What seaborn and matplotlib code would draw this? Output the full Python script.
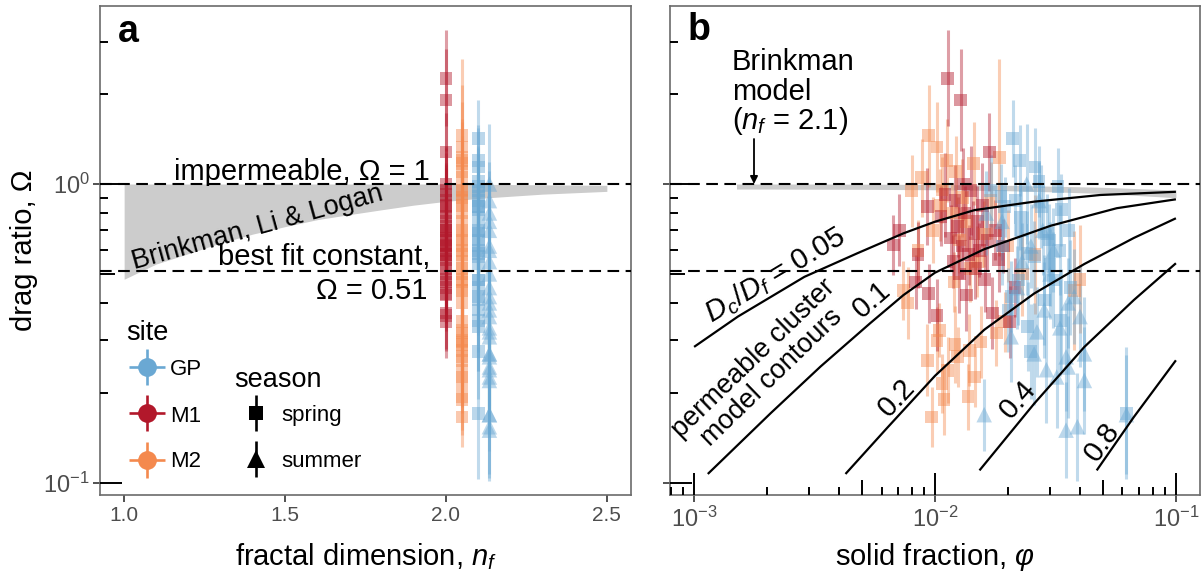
import matplotlib
matplotlib.use("Agg")
import numpy as np
import pandas as pd
import matplotlib.pyplot as plt
import matplotlib.transforms as mtransforms
from matplotlib.ticker import FixedLocator, NullLocator
import seaborn as sns

sns.set_theme(style="white")
plt.rcParams["font.family"] = ["Liberation Sans", "DejaVu Sans"]
plt.rcParams["mathtext.fontset"] = "custom"
plt.rcParams["mathtext.rm"] = "Liberation Sans"
plt.rcParams["mathtext.it"] = "Liberation Sans:italic"
plt.rcParams["mathtext.bf"] = "Liberation Sans:bold"
plt.rcParams["text.color"] = "black"
plt.rcParams["axes.labelcolor"] = "black"

# ---------------- measured aggregates ----------------
# solid fraction phi, drag ratio omega, log10 half-width of the omega error bar
m1_phi = [0.0067, 0.0071, 0.0083, 0.0085, 0.0093, 0.0094,
          0.0102, 0.0106, 0.0110, 0.0113, 0.0116, 0.0119,
          0.0121, 0.0124, 0.0126, 0.0128, 0.0130, 0.0133,
          0.0135, 0.0138, 0.0141, 0.0144, 0.0147, 0.0150,
          0.0153, 0.0157, 0.0161, 0.0165, 0.0168, 0.0173,
          0.0178, 0.0184, 0.0192, 0.0204, 0.0215, 0.0131]
m1_omega = [0.625, 0.70, 0.47, 0.58, 0.84, 0.43,
            0.364, 0.78, 0.92, 2.26, 0.66, 0.55,
            0.88, 0.72, 0.50, 1.91, 0.62, 0.80,
            0.425, 0.58, 0.95, 0.68, 0.52, 0.75,
            0.60, 0.85, 0.48, 0.65, 1.28, 0.37,
            0.70, 0.56, 0.62, 0.346, 0.45, 1.00]
m1_err = [0.10, 0.12, 0.09, 0.11, 0.13, 0.10,
          0.12, 0.10, 0.14, 0.16, 0.11, 0.09,
          0.12, 0.10, 0.13, 0.17, 0.11, 0.09,
          0.12, 0.10, 0.15, 0.11, 0.10, 0.12,
          0.09, 0.14, 0.11, 0.10, 0.13, 0.12,
          0.10, 0.11, 0.09, 0.12, 0.10, 0.12]

m2_phi = [0.0074, 0.0077, 0.0093, 0.0097, 0.0102, 0.0104,
          0.0107, 0.0109, 0.0113, 0.0121, 0.0124, 0.0137,
          0.0139, 0.0146, 0.0155, 0.0180, 0.0195, 0.0378,
          0.0080, 0.0085, 0.0088, 0.0094, 0.0098, 0.0102,
          0.0105, 0.0107, 0.0112, 0.0118, 0.0122, 0.0126,
          0.0130, 0.0135, 0.0145, 0.0150, 0.0160, 0.0170,
          0.0185, 0.0200, 0.0230, 0.0260, 0.0400, 0.0120,
          0.0140]
m2_omega = [0.44, 0.40, 0.257, 0.166, 0.30, 0.324,
            0.215, 0.19, 0.238, 0.29, 0.264, 0.194,
            0.278, 0.226, 0.296, 0.317, 0.346, 0.44,
            0.95, 0.60, 1.05, 1.45, 0.70, 1.33,
            0.85, 0.955, 1.20, 0.80, 1.10, 0.65,
            0.90, 0.75, 1.17, 0.55, 0.68, 0.88,
            1.23, 0.62, 0.50, 0.58, 0.48, 0.47,
            0.52]
m2_err = [0.10, 0.12, 0.12, 0.10, 0.11, 0.09,
          0.10, 0.12, 0.11, 0.13, 0.10, 0.11,
          0.12, 0.10, 0.12, 0.11, 0.10, 0.20,
          0.12, 0.10, 0.13, 0.17, 0.11, 0.15,
          0.12, 0.11, 0.14, 0.10, 0.12, 0.11,
          0.13, 0.10, 0.14, 0.12, 0.11, 0.13,
          0.33, 0.12, 0.14, 0.20, 0.18, 0.10,
          0.11]

gp_sp_phi = [0.0170, 0.0188, 0.0190, 0.0195, 0.0201, 0.0207,
             0.0210, 0.0215, 0.0222, 0.0225, 0.0226, 0.0228,
             0.0241, 0.0243, 0.0250, 0.0258, 0.0260, 0.0270,
             0.0276, 0.0284, 0.0293, 0.0298, 0.0300, 0.0310,
             0.0324, 0.0330, 0.0332, 0.0334, 0.0360, 0.0365,
             0.0623]
gp_sp_omega = [0.95, 0.907, 0.62, 0.84, 0.379, 0.42,
               1.42, 0.88, 0.477, 1.20, 0.775, 0.70,
               0.587, 0.333, 0.275, 0.571, 1.14, 1.02,
               0.84, 0.409, 0.684, 0.65, 0.54, 0.477,
               0.98, 0.60, 0.35, 0.82, 0.70, 0.45,
               0.171]
gp_sp_err = [0.12, 0.11, 0.13, 0.10, 0.14, 0.12,
             0.13, 0.12, 0.15, 0.12, 0.11, 0.13,
             0.14, 0.15, 0.16, 0.12, 0.13, 0.12,
             0.14, 0.15, 0.13, 0.12, 0.14, 0.16,
             0.13, 0.15, 0.17, 0.12, 0.14, 0.16,
             0.22]

gp_su_phi = [0.0160, 0.0163, 0.0190, 0.0207, 0.0220, 0.0230,
             0.0240, 0.0250, 0.0258, 0.0270, 0.0280, 0.0284,
             0.0290, 0.0300, 0.0310, 0.0320, 0.0330, 0.0350,
             0.0350, 0.0357, 0.0357, 0.0378, 0.0390, 0.0400,
             0.0417, 0.0417, 0.0623, 0.0265]
gp_su_omega = [0.169, 0.80, 0.75, 0.308, 0.45, 0.55,
               1.00, 0.62, 0.27, 0.88, 0.70, 0.379,
               0.239, 0.50, 0.60, 0.226, 0.33, 0.264,
               0.150, 0.244, 0.40, 0.42, 0.154, 0.36,
               0.27, 0.22, 0.169, 0.32]
gp_su_err = [0.12, 0.14, 0.13, 0.15, 0.14, 0.13,
             0.20, 0.14, 0.17, 0.13, 0.15, 0.16,
             0.18, 0.15, 0.14, 0.17, 0.16, 0.18,
             0.16, 0.17, 0.15, 0.16, 0.18, 0.17,
             0.19, 0.18, 0.20, 0.15]

# fractal dimension assigned to each site / season
nf_m1_spring = 2.00
nf_m2_spring = 2.05
nf_gp_spring = 2.10
nf_gp_summer = 2.135

# ---------------- model curves ----------------
# Brinkman, Li & Logan range against fractal dimension
brink_nf = [1.0, 1.1, 1.2, 1.3, 1.4, 1.5, 1.6, 1.7,
            1.8, 1.9, 2.0, 2.1, 2.2, 2.3, 2.4, 2.5]
brink_lo = [0.48, 0.54, 0.585, 0.635, 0.68, 0.72, 0.76, 0.79,
            0.82, 0.85, 0.875, 0.895, 0.91, 0.925, 0.935, 0.945]
brink_hi = [1.0, 1.0, 1.0, 1.0, 1.0, 1.0, 1.0, 1.0,
            1.0, 1.0, 1.0, 0.998, 0.996, 0.994, 0.992, 0.99]

# Brinkman model at n_f = 2.1 against solid fraction
brink21_phi = [0.0015, 0.002, 0.003, 0.005, 0.01, 0.02, 0.03, 0.05, 0.07, 0.1]
brink21_hi = [1.0, 1.0, 1.0, 0.999, 0.997, 0.99, 0.984, 0.975, 0.965, 0.955]
brink21_lo = [0.962, 0.962, 0.961, 0.96, 0.957, 0.95, 0.942, 0.93, 0.915, 0.90]

# permeable cluster model contours, one per D_c/D_f
c005_phi = [0.001, 0.00152, 0.00287, 0.00475, 0.0074, 0.01, 0.0146, 0.0258, 0.0485, 0.1]
c005_omega = [0.285, 0.36, 0.489, 0.586, 0.684, 0.748, 0.818, 0.873, 0.919, 0.942]
c01_phi = [0.00114, 0.00208, 0.00335, 0.00538, 0.0074, 0.01, 0.016, 0.0302, 0.0568, 0.1]
c01_omega = [0.107, 0.171, 0.245, 0.342, 0.425, 0.505, 0.605, 0.725, 0.83, 0.889]
c02_phi = [0.00425, 0.0063, 0.01, 0.016, 0.0258, 0.0417, 0.0669, 0.1]
c02_omega = [0.107, 0.152, 0.228, 0.325, 0.43, 0.54, 0.66, 0.768]
c04_phi = [0.0153, 0.0258, 0.0417, 0.0669, 0.1]
c04_omega = [0.110, 0.184, 0.285, 0.409, 0.543]
c08_phi = [0.0469, 0.0669, 0.1]
c08_omega = [0.110, 0.166, 0.257]

omega_impermeable = 1.0
omega_best_fit = 0.51

palette = {"GP": "#6aa8d3", "M1": "#b2182b", "M2": "#f4894e"}


def group(site, season, nf, phi, omega, err):
    return pd.DataFrame({"site": site, "season": season, "nf": nf,
                         "phi": phi, "omega": omega, "err": err})


df = pd.concat([
    group("M2", "spring", nf_m2_spring, m2_phi, m2_omega, m2_err),
    group("M1", "spring", nf_m1_spring, m1_phi, m1_omega, m1_err),
    group("GP", "spring", nf_gp_spring, gp_sp_phi, gp_sp_omega, gp_sp_err),
    group("GP", "summer", nf_gp_summer, gp_su_phi, gp_su_omega, gp_su_err),
], ignore_index=True)
df["lo"] = df["omega"] / 10 ** df["err"]
df["hi"] = df["omega"] * 10 ** df["err"]

FIG_W, FIG_H = 1201, 575
fig = plt.figure(figsize=(FIG_W / 100, FIG_H / 100), dpi=100)
axa = fig.add_axes([100 / FIG_W, 80 / FIG_H, 531 / FIG_W, 489 / FIG_H])
axb = fig.add_axes([670 / FIG_W, 80 / FIG_H, 530 / FIG_W, 489 / FIG_H])

YLIM = (10 ** -1.041, 10 ** 0.596)
XLIM_A = (0.925, 2.575)
XLIM_B = (10 ** -3.1, 10 ** -0.9)


def to_axes(ax, x, y):
    """figure pixel position (origin top-left) -> axes fraction"""
    pos = ax.get_position()
    return ((x / FIG_W - pos.x0) / pos.width,
            ((FIG_H - y) / FIG_H - pos.y0) / pos.height)


def draw_points(ax, xcol):
    for site, g in df.groupby("site", sort=False):
        ax.vlines(g[xcol], g["lo"], g["hi"], color=palette[site],
                  alpha=0.42, lw=2.2, zorder=3)
    sns.scatterplot(data=df[df.season == "spring"], x=xcol, y="omega",
                    hue="site", palette=palette, marker="s", s=85,
                    alpha=0.45, linewidth=0, legend=False, ax=ax, zorder=4)
    sns.scatterplot(data=df[df.season == "summer"], x=xcol, y="omega",
                    hue="site", palette=palette, marker="^", s=125,
                    alpha=0.45, linewidth=0, legend=False, ax=ax, zorder=4)


def log_ticks(ax, axis):
    pos = ax.get_position()
    wpx, hpx = pos.width * FIG_W, pos.height * FIG_H
    lo, hi = ax.get_ylim() if axis == "y" else ax.get_xlim()
    for e in range(-5, 2):
        for m in range(1, 10):
            v = m * 10.0 ** e
            if not (lo <= v <= hi):
                continue
            L = 22 if m == 1 else (15 if m == 5 else 8)
            if axis == "y":
                tr = mtransforms.blended_transform_factory(ax.transAxes, ax.transData)
                ax.plot([0, L / wpx], [v, v], transform=tr, color="black",
                        lw=1.4, solid_capstyle="butt", zorder=6, clip_on=False)
            else:
                tr = mtransforms.blended_transform_factory(ax.transData, ax.transAxes)
                ax.plot([v, v], [0, L / hpx], transform=tr, color="black",
                        lw=1.4, solid_capstyle="butt", zorder=6, clip_on=False)


dash = (0, (5.6, 3.1))

# ---------------- panel a ----------------
axa.set_yscale("log")
axa.fill_between(brink_nf, brink_lo, brink_hi, color="#CCCCCC", lw=0, zorder=1)
draw_points(axa, "nf")
for yv in (omega_impermeable, omega_best_fit):
    axa.axhline(yv, color="black", lw=1.5, linestyle=dash, zorder=5)
axa.set_xlim(*XLIM_A)
axa.set_ylim(*YLIM)

# ---------------- panel b ----------------
axb.set_xscale("log")
axb.set_yscale("log")
axb.fill_between(brink21_phi, brink21_lo, brink21_hi, color="#CCCCCC", lw=0, zorder=1)
draw_points(axb, "phi")
for cphi, comega in [(c005_phi, c005_omega), (c01_phi, c01_omega),
                     (c02_phi, c02_omega), (c04_phi, c04_omega),
                     (c08_phi, c08_omega)]:
    axb.plot(cphi, comega, color="black", lw=1.6, zorder=5,
             solid_capstyle="butt")
for yv in (omega_impermeable, omega_best_fit):
    axb.axhline(yv, color="black", lw=1.5, linestyle=dash, zorder=5)
axb.set_xlim(*XLIM_B)
axb.set_ylim(*YLIM)

# ---------------- axes styling ----------------
for ax in (axa, axb):
    ax.set_facecolor("white")
    for sp in ax.spines.values():
        sp.set_color("#6b6b6b")
        sp.set_linewidth(1.2)
        sp.set_visible(True)
    ax.yaxis.set_major_locator(FixedLocator([0.1, 1.0]))
    ax.yaxis.set_minor_locator(NullLocator())
    ax.xaxis.set_minor_locator(NullLocator())
    ax.tick_params(axis="both", which="major", direction="out", length=5.2,
                   width=1.2, color="#333333", labelsize=15,
                   labelcolor="#4D4D4D", pad=3, bottom=True, left=True)
    ax.grid(False)

axa.set_yticklabels([r"$10^{-1}$", r"$10^{0}$"], fontsize=17)
axa.tick_params(axis="y", pad=2)
axa.xaxis.set_major_locator(FixedLocator([1.0, 1.5, 2.0, 2.5]))
axa.set_xticklabels(["1.0", "1.5", "2.0", "2.5"])
axb.tick_params(axis="y", labelleft=False)
axb.xaxis.set_major_locator(FixedLocator([1e-3, 1e-2, 1e-1]))
axb.set_xticklabels([r"$10^{-3}$", r"$10^{-2}$", r"$10^{-1}$"], fontsize=17)
axb.xaxis.set_minor_locator(NullLocator())

log_ticks(axa, "y")
log_ticks(axb, "y")
log_ticks(axb, "x")
axa.set_xlim(*XLIM_A)
axa.set_ylim(*YLIM)
axb.set_xlim(*XLIM_B)
axb.set_ylim(*YLIM)

axa.set_xlabel(r"fractal dimension, $n_f$", fontsize=21, color="black")
axa.xaxis.set_label_coords(0.5, to_axes(axa, 0, 541)[1])
axa.set_ylabel("drag ratio, \u03a9", fontsize=21, color="black")
axa.yaxis.set_label_coords(to_axes(axa, 38, 0)[0], 0.5)
axb.set_xlabel(r"solid fraction, $\varphi$", fontsize=21, color="black")
axb.xaxis.set_label_coords(0.5, to_axes(axb, 0, 541)[1])
axb.set_ylabel("")

# ---------------- panel a annotations ----------------
axa.text(*to_axes(axa, 118, 42), "a", fontsize=27, fontweight="bold",
         ha="left", va="baseline", transform=axa.transAxes)
axa.text(*to_axes(axa, 430, 180), "impermeable, \u03a9 = 1", fontsize=21,
         ha="right", va="baseline", transform=axa.transAxes, zorder=7)
axa.text(*to_axes(axa, 430, 265), "best fit constant,", fontsize=21,
         ha="right", va="baseline", transform=axa.transAxes, zorder=7)
axa.text(*to_axes(axa, 427, 299), "\u03a9 = 0.51", fontsize=21,
         ha="right", va="baseline", transform=axa.transAxes, zorder=7)
axa.text(*to_axes(axa, 257, 228), "Brinkman, Li & Logan", fontsize=19.5,
         ha="center", va="center", rotation=15.5, rotation_mode="anchor",
         transform=axa.transAxes, zorder=7)

# legend: site
axa.text(*to_axes(axa, 126, 340), "site", fontsize=19.5, ha="left",
         va="baseline", transform=axa.transAxes)
for site, yc, yb in [("GP", 366.7, 375), ("M1", 413, 421.7), ("M2", 459.5, 467)]:
    col = palette[site]
    x0, y0 = to_axes(axa, 129, yc)
    x1, _ = to_axes(axa, 165, yc)
    axa.plot([x0, x1], [y0, y0], color=col, lw=1.9, transform=axa.transAxes,
             solid_capstyle="butt", clip_on=False, zorder=8)
    xc, ya = to_axes(axa, 147, yc - 18)
    _, yb2 = to_axes(axa, 147, yc + 18)
    axa.plot([xc, xc], [ya, yb2], color=col, lw=1.9, transform=axa.transAxes,
             solid_capstyle="butt", clip_on=False, zorder=8)
    axa.plot([xc], [y0], marker="o", ms=13.5, color=col, mew=0,
             transform=axa.transAxes, clip_on=False, zorder=9)
    axa.text(*to_axes(axa, 170, yb), site, fontsize=16, ha="left",
             va="baseline", transform=axa.transAxes)

# legend: season
axa.text(*to_axes(axa, 234, 387), "season", fontsize=19.5, ha="left",
         va="baseline", transform=axa.transAxes)
for season, mk, ms, yc, yb in [("spring", "s", 10.5, 413, 420.7),
                               ("summer", "^", 12.5, 459, 467)]:
    xc, ya = to_axes(axa, 256, yc - 18)
    _, yb2 = to_axes(axa, 256, yc + 18)
    _, ym = to_axes(axa, 256, yc)
    axa.plot([xc, xc], [ya, yb2], color="black", lw=1.9,
             transform=axa.transAxes, solid_capstyle="butt", clip_on=False,
             zorder=8)
    axa.plot([xc], [ym], marker=mk, ms=ms, color="black", mew=0,
             transform=axa.transAxes, clip_on=False, zorder=9)
    axa.text(*to_axes(axa, 281, yb), season, fontsize=16, ha="left",
             va="baseline", transform=axa.transAxes)

# ---------------- panel b annotations ----------------
axb.text(*to_axes(axb, 688, 40), "b", fontsize=27, fontweight="bold",
         ha="left", va="baseline", transform=axb.transAxes)
axb.text(*to_axes(axb, 732, 70), "Brinkman", fontsize=21, ha="left",
         va="baseline", transform=axb.transAxes)
axb.text(*to_axes(axb, 732, 100), "model", fontsize=21, ha="left",
         va="baseline", transform=axb.transAxes)
axb.text(*to_axes(axb, 732, 129), r"($n_f$ = 2.1)", fontsize=21, ha="left",
         va="baseline", transform=axb.transAxes)
axb.annotate("", xy=to_axes(axb, 754, 184), xytext=to_axes(axb, 754, 139),
             xycoords="axes fraction", textcoords="axes fraction",
             arrowprops=dict(arrowstyle="-|>", color="black", lw=1.3,
                             mutation_scale=11, shrinkA=0, shrinkB=0),
             zorder=8)

curve_labels = [
    (r"$D_c/D_f$ = 0.05", 775, 275, 31, 21),
    ("0.1", 872, 300, 41, 21),
    ("permeable cluster\nmodel contours", 763, 368, 44, 19.5),
    ("0.2", 896.7, 398, 47, 21),
    ("0.4", 1018.3, 400, 49, 21),
    ("0.8", 1102.3, 441.7, 54, 21),
]
for txt, px, py, rot, fs in curve_labels:
    axb.text(*to_axes(axb, px, py), txt, fontsize=fs, ha="center",
             va="center", rotation=rot, rotation_mode="anchor",
             transform=axb.transAxes, zorder=8, linespacing=1.0)

fig.savefig("out.png", dpi=100)
